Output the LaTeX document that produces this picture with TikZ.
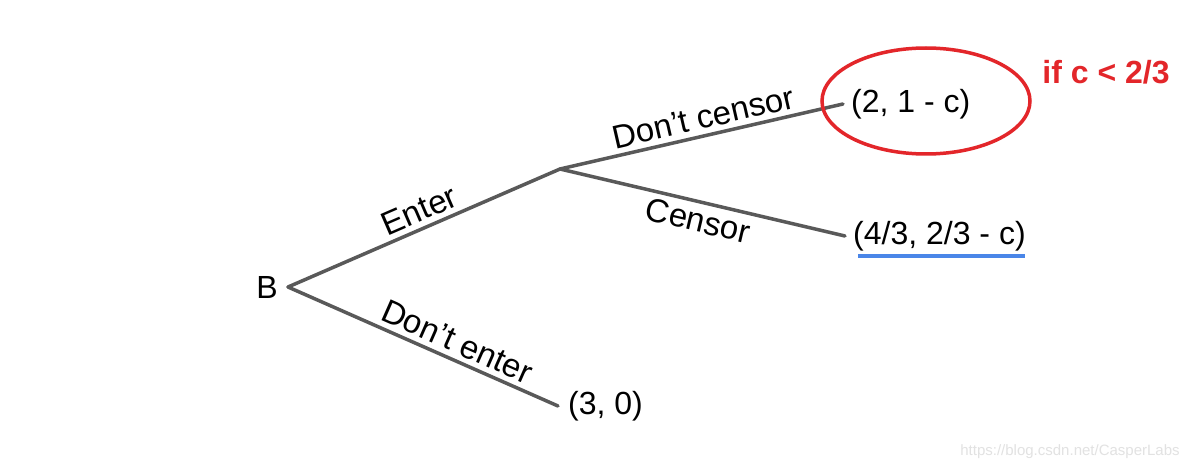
\documentclass[tikz,border=0pt]{standalone}
\usepackage{fontspec}
\setmainfont{Liberation Sans}
\usetikzlibrary{shapes.geometric}
\definecolor{edgegray}{HTML}{595959}
\definecolor{circred}{HTML}{E3262A}
\definecolor{ulblue}{HTML}{4A86E8}
\definecolor{wmgray}{HTML}{E2E2E2}
\tikzset{
  txt/.style={font=\fontsize{32}{38}\selectfont, inner sep=2pt},
  leaf/.style={txt, anchor=west, inner sep=8pt},
  edge/.style={draw=edgegray, line width=3.5pt, line cap=round, line join=round},
  lab/.style={font=\fontsize{33}{39}\selectfont, sloped, inner sep=5pt},
}
\begin{document}
\begin{tikzpicture}[x=1pt,y=-1pt]
\useasboundingbox (0,0) rectangle (1195,468);
\fill[white] (0,0) rectangle (1195,468);

\node[txt, anchor=east, inner sep=10pt] (B) at (288,287) {B};
\coordinate (M) at (560,169);
\node[leaf] (dc) at (843,104) {(2, 1 - c)};
\node[leaf] (cs) at (845,236) {(4/3, 2/3 - c)};
\node[leaf, inner sep=10pt] (de) at (558,406) {(3, 0)};

\draw[edge] (B.east) -- node[lab, above, pos=0.51] {Enter} (M);
\draw[edge] (B.east) -- node[lab, above, pos=0.6] {Don’t enter} (de.west);
\draw[edge] (M) -- node[lab, above, pos=0.52] {Don’t censor} (dc.west);
\draw[edge] (M) -- node[lab, below, pos=0.5] {Censor} (cs.west);

\node[ellipse, draw=circred, line width=3.5pt, minimum width=208pt, minimum height=106pt] (ell) at (926,101) {};
\node[txt, text=circred, font=\fontsize{32}{38}\selectfont\bfseries] (cond) at (1106,72) {if c < 2/3};
\draw[ulblue, line width=3.5pt] (858,256) -- (1025,256);

\node[font=\fontsize{15}{17}\selectfont, text=wmgray] (wm) at (1070,452) {https://blog.csdn.net/CasperLabs};
\end{tikzpicture}
\end{document}
